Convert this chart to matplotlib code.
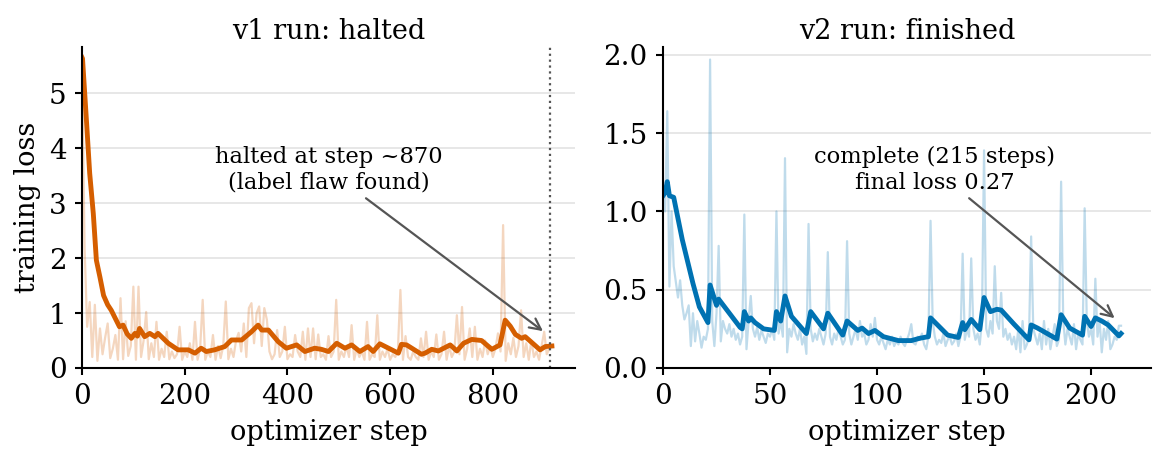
import matplotlib
matplotlib.use("Agg")
import matplotlib.pyplot as plt
import numpy as np

plt.rcParams['font.family'] = ['DejaVu Serif']

# v1 run: raw loss logged every 5 steps, 0..915
v1_step = np.arange(0, 916, 5)
v1_raw = [
    5.65, 2.20, 0.75, 1.20, 0.20, 1.15, 0.13, 0.72, 0.25, 0.55,
    0.81, 0.18, 0.35, 0.60, 0.15, 1.27, 0.16, 0.85, 0.22, 0.40,
    1.48, 0.15, 1.48, 0.20, 0.50, 1.02, 0.16, 0.45, 0.20, 0.84,
    0.15, 0.35, 0.20, 0.66, 0.16, 0.30, 0.18, 0.25, 0.75, 0.15,
    0.30, 0.20, 0.45, 0.15, 0.84, 0.15, 0.35, 1.24, 0.15, 0.30,
    0.20, 0.60, 0.15, 0.40, 0.18, 0.40, 1.21, 0.16, 0.35, 0.20,
    0.50, 0.64, 0.30, 0.81, 0.20, 1.09, 1.18, 0.45, 1.00, 1.12,
    0.40, 1.09, 0.88, 0.30, 0.16, 0.25, 0.69, 0.20, 0.30, 0.75,
    0.16, 0.25, 0.20, 0.60, 0.30, 0.20, 0.66, 0.15, 0.72, 0.20,
    0.72, 0.16, 0.61, 0.20, 0.25, 0.15, 0.58, 0.20, 0.30, 1.24,
    0.15, 0.30, 0.20, 0.40, 0.20, 0.78, 0.15, 0.35, 0.20, 0.30,
    0.15, 0.84, 0.15, 0.25, 0.20, 0.96, 0.15, 0.30, 0.20, 0.35,
    0.15, 0.25, 0.20, 0.30, 1.42, 0.15, 0.58, 0.20, 0.15, 0.30,
    0.20, 0.15, 0.54, 0.20, 0.66, 0.15, 0.30, 0.20, 0.61, 0.15,
    0.25, 0.66, 0.15, 0.40, 0.20, 0.30, 0.96, 0.25, 1.11, 0.15,
    0.35, 0.72, 0.20, 0.75, 0.15, 0.35, 0.20, 0.50, 0.25, 0.40,
    0.20, 0.35, 0.63, 0.30, 2.60, 0.13, 0.45, 0.25, 0.55, 0.20,
    0.40, 1.05, 0.20, 0.45, 0.15, 0.50, 0.20, 0.30, 0.15, 0.40,
    0.66, 0.25, 0.35, 0.40,
]
# smoothed curve
v1_smooth_step = [0, 1, 9, 15, 22, 28, 35, 42, 50, 57, 65, 73, 80, 88, 96, 103, 108,
                  112, 122, 132, 142, 148, 168, 187, 207, 220, 232, 242, 258, 278,
                  291, 311, 330, 343, 350, 363, 382, 398, 408, 418, 434, 453, 466,
                  480, 496, 512, 525, 541, 557, 567, 580, 616, 622, 632, 661, 668,
                  681, 694, 717, 730, 743, 759, 778, 798, 814, 824, 834, 844, 856,
                  863, 892, 902, 915]
v1_smooth = [5.65, 5.63, 4.45, 3.54, 2.81, 1.96, 1.65, 1.32, 1.15, 1.05, 0.90, 0.75,
             0.78, 0.62, 0.54, 0.63, 0.58, 0.72, 0.57, 0.63, 0.57, 0.63, 0.45, 0.33,
             0.33, 0.27, 0.36, 0.30, 0.33, 0.39, 0.51, 0.51, 0.66, 0.78, 0.69, 0.69,
             0.48, 0.36, 0.39, 0.42, 0.30, 0.36, 0.34, 0.30, 0.45, 0.36, 0.42, 0.30,
             0.39, 0.30, 0.44, 0.27, 0.43, 0.42, 0.25, 0.27, 0.34, 0.31, 0.42, 0.31,
             0.45, 0.52, 0.50, 0.34, 0.42, 0.87, 0.76, 0.61, 0.54, 0.57, 0.33, 0.39,
             0.40]
v1_halt = 911

# v2 run: raw loss every step, 0..214
v2_step = np.arange(0, 215)
v2_raw = [
    1.10, 1.00, 1.64, 0.52, 1.00, 0.65, 0.55, 0.45, 0.56, 0.40,
    0.31, 0.35, 0.40, 0.14, 0.35, 0.17, 0.30, 0.22, 0.13, 0.20,
    0.18, 0.25, 1.97, 0.30, 0.14, 0.35, 0.78, 0.17, 0.30, 0.25,
    0.22, 0.28, 0.20, 0.25, 0.18, 0.22, 0.15, 0.20, 0.98, 0.12,
    0.30, 0.46, 0.25, 0.20, 0.26, 0.18, 0.24, 0.20, 0.16, 0.22,
    0.20, 0.25, 0.18, 1.00, 0.22, 0.30, 0.20, 1.34, 0.10, 0.25,
    0.20, 0.28, 0.22, 0.18, 0.25, 0.15, 0.20, 0.09, 0.92, 0.25,
    0.17, 0.22, 0.18, 0.25, 0.20, 0.15, 0.22, 0.74, 0.20, 0.15,
    0.22, 0.18, 0.25, 0.20, 0.15, 0.18, 0.81, 0.22, 0.15, 0.20,
    0.25, 0.18, 0.30, 0.20, 0.22, 0.15, 0.18, 0.28, 0.20, 0.32,
    0.18, 0.15, 0.20, 0.16, 0.12, 0.18, 0.15, 0.20, 0.14, 0.17,
    0.15, 0.20, 0.16, 0.14, 0.18, 0.22, 0.28, 0.16, 0.15, 0.20,
    0.18, 0.22, 0.15, 0.12, 0.20, 0.94, 0.30, 0.20, 0.15, 0.18,
    0.16, 0.22, 0.14, 0.18, 0.20, 0.15, 0.17, 0.22, 0.14, 0.20,
    0.73, 0.18, 0.25, 0.20, 0.70, 0.25, 0.18, 0.22, 0.15, 0.30,
    1.39, 0.25, 0.20, 0.30, 0.22, 0.65, 0.30, 0.25, 0.48, 0.20,
    0.25, 0.18, 0.22, 0.15, 0.20, 0.12, 0.25, 0.10, 0.30, 0.12,
    0.15, 0.20, 0.84, 0.25, 0.20, 0.15, 0.22, 0.12, 0.30, 0.15,
    0.25, 0.12, 0.20, 0.28, 0.14, 0.18, 1.19, 0.30, 0.15, 0.25,
    0.20, 0.15, 0.28, 0.12, 0.22, 0.18, 0.15, 1.02, 0.30, 0.20,
    0.25, 0.15, 0.57, 0.20, 0.30, 0.10, 0.25, 0.18, 0.30, 0.12,
    0.15, 0.20, 0.18, 0.27, 0.27,
]
v2_smooth_step = [0, 1, 2, 3, 5, 9, 14, 17, 21, 22, 25, 26, 36, 37, 38, 40, 41, 43,
                  47, 52, 53, 55, 57, 60, 67, 69, 75, 77, 84, 86, 91, 93, 96, 99,
                  103, 110, 116, 120, 124, 125, 133, 138, 140, 141, 144, 148, 150,
                  153, 156, 158, 164, 171, 172, 175, 184, 186, 190, 196, 197, 200,
                  202, 205, 208, 213, 214]
v2_smooth = [1.10, 1.12, 1.19, 1.10, 1.09, 0.82, 0.54, 0.39, 0.29, 0.53, 0.40, 0.44,
             0.26, 0.25, 0.36, 0.30, 0.32, 0.29, 0.25, 0.24, 0.36, 0.30, 0.46, 0.33,
             0.22, 0.36, 0.25, 0.35, 0.21, 0.30, 0.24, 0.255, 0.22, 0.24, 0.20, 0.175,
             0.175, 0.19, 0.20, 0.32, 0.21, 0.195, 0.29, 0.245, 0.31, 0.245, 0.45,
             0.36, 0.375, 0.37, 0.28, 0.18, 0.275, 0.255, 0.185, 0.34, 0.255, 0.21,
             0.33, 0.265, 0.32, 0.30, 0.275, 0.205, 0.22]

orange = '#d55e00'
blue = '#0072b2'

fig = plt.figure(figsize=(11.54, 4.51), dpi=100)
ax1 = fig.add_axes([82 / 1154, 1 - 368 / 451, 493 / 1154, 321 / 451])
ax2 = fig.add_axes([663 / 1154, 1 - 368 / 451, 488 / 1154, 321 / 451])

for ax in (ax1, ax2):
    ax.spines['top'].set_visible(False)
    ax.spines['right'].set_visible(False)
    ax.spines['left'].set_linewidth(1.5)
    ax.spines['bottom'].set_linewidth(1.5)
    ax.tick_params(labelsize=20, width=1.5, length=5, pad=6)
    ax.grid(axis='y', color='#e3e3e3', lw=1.2)
    ax.set_axisbelow(True)
    ax.set_xlabel('optimizer step', fontsize=19.5, labelpad=6)

# left: v1
ax1.plot(v1_step, v1_raw, color=orange, alpha=0.25, lw=1.6)
ax1.plot(v1_smooth_step, v1_smooth, color=orange, lw=3.5)
ax1.axvline(v1_halt, color='#555555', ls=':', lw=1.6)
ax1.set_xlim(0, 960)
ax1.set_ylim(0, 5.84)
ax1.set_xticks([0, 200, 400, 600, 800])
ax1.set_yticks([0, 1, 2, 3, 4, 5])
ax1.set_ylabel('training loss', fontsize=19.5, labelpad=6)
ax1.set_title('v1 run: halted', fontsize=19.5)
ax1.annotate('halted at step ~870\n(label flaw found)', xy=(902, 0.64), xytext=(480, 3.6),
             ha='center', va='center', fontsize=16.3,
             arrowprops=dict(arrowstyle='->', color='#555555', lw=1.6, mutation_scale=20))

# right: v2
ax2.plot(v2_step, v2_raw, color=blue, alpha=0.25, lw=1.6)
ax2.plot(v2_smooth_step, v2_smooth, color=blue, lw=3.5)
ax2.set_xlim(0, 228)
ax2.set_ylim(0, 2.05)
ax2.set_xticks([0, 50, 100, 150, 200])
ax2.set_yticks([0.0, 0.5, 1.0, 1.5, 2.0])
ax2.set_yticklabels(['0.0', '0.5', '1.0', '1.5', '2.0'])
ax2.set_title('v2 run: finished', fontsize=19.5)
ax2.annotate('complete (215 steps)\nfinal loss 0.27', xy=(212, 0.307), xytext=(127, 1.265),
             ha='center', va='center', fontsize=16.3,
             arrowprops=dict(arrowstyle='->', color='#555555', lw=1.6, mutation_scale=20))

fig.savefig('out.png', dpi=100)
